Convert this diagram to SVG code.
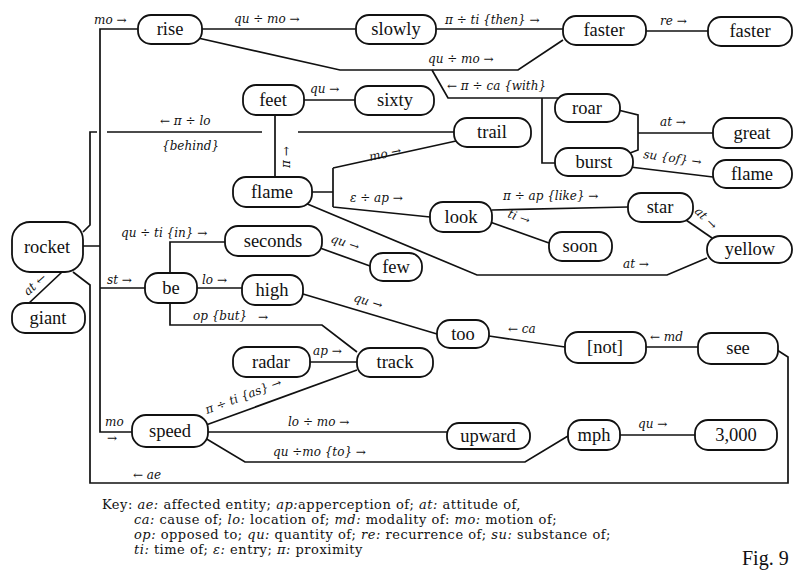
<svg xmlns="http://www.w3.org/2000/svg" width="795" height="581" viewBox="0 0 795 581">
<style>
.n rect{fill:#fff;stroke:#111;stroke-width:1.8}
.n text{font-family:"Liberation Serif",serif;font-size:18.5px;text-anchor:middle;fill:#111}
.e path{fill:none;stroke:#111;stroke-width:1.7}
.l{font-family:"DejaVu Serif",serif;font-style:italic;font-size:12px;fill:#111}
.k{font-family:"DejaVu Serif",serif;font-size:13px;letter-spacing:0.5px;fill:#111}
.k .i{font-style:italic}
</style>
<rect width="795" height="581" fill="#fff"/>
<g id="connectors" class="e">
<path d="M83,232 L90,225 L90,132 L97,132 M107,132 L262,132 M298,132 L454,132"/>
<path d="M73,272 L90,285 L90,483 L788,483 L788,357 L777,350"/>
<path d="M83,246 L100,246 M138,29 L100,29 L100,432 L132,432 M100,288 L145,288"/>
<path d="M62,272 L28,304"/>
<path d="M202,29 L356,29"/>
<path d="M436,29 L563,29"/>
<path d="M646,31 L708,31"/>
<path d="M198,38 L340,70 L518,70 L563,40"/>
<path d="M432,70 L448,98 L558,98 M542,98 L542,163 L555,163"/>
<path d="M618,110 L638,115 L638,150 L630,153 M638,133 L713,133"/>
<path d="M630,167 L713,177"/>
<path d="M304,100 L355,100"/>
<path d="M275,115 L275,177"/>
<path d="M312,192 L333,192 M333,168 L333,207 M333,168 L456,141 M333,207 L430,217"/>
<path d="M305,203 L477,275 L667,275 L707,258"/>
<path d="M492,210 L628,207"/>
<path d="M490,222 L549,243"/>
<path d="M686,220 L712,238"/>
<path d="M170,273 L170,242 L225,242"/>
<path d="M197,288 L242,288"/>
<path d="M170,303 L170,325 L322,325 L357,352"/>
<path d="M320,248 L370,266"/>
<path d="M303,294 L437,334"/>
<path d="M489,336 L565,347"/>
<path d="M646,347 L698,347"/>
<path d="M310,362 L357,362"/>
<path d="M206,425 L357,370"/>
<path d="M208,432 L447,432"/>
<path d="M205,438 L245,462 L525,462 L568,436"/>
<path d="M620,435 L695,435"/>
</g>
<g id="labels" class="l">
<text x="94" y="24">mo →</text>
<text x="234" y="23">qu ÷ mo →</text>
<text x="445" y="24">π ÷ ti {then} →</text>
<text x="660" y="25">re →</text>
<text x="428" y="63">qu ÷ mo →</text>
<text x="447" y="90">← π ÷ ca {with}</text>
<text x="660" y="126">at →</text>
<text transform="translate(643,158) rotate(8)">su {of} →</text>
<text x="310" y="93">qu →</text>
<text x="160" y="125">← π ÷ lo</text>
<text x="162" y="150">{behind}</text>
<text transform="translate(290,168) rotate(-90)">π →</text>
<text transform="translate(370,161) rotate(-12)">mo →</text>
<text x="350" y="202">ε ÷ ap →</text>
<text x="503" y="200">π ÷ ap {like} →</text>
<text transform="translate(507,217) rotate(20)">ti →</text>
<text transform="translate(694,212) rotate(45)">at →</text>
<text x="623" y="268">at →</text>
<text x="121" y="237">qu ÷ ti {in} →</text>
<text x="202" y="284">lo →</text>
<text x="107" y="284">st →</text>
<text x="193" y="320">op {but}</text>
<text x="258" y="321">→</text>
<text transform="translate(330,242) rotate(18)">qu →</text>
<text transform="translate(353,301) rotate(17)">qu →</text>
<text x="508" y="333">← ca</text>
<text x="650" y="341">← md</text>
<text x="313" y="355">ap →</text>
<text transform="translate(207,414) rotate(-20.5)">π ÷ ti {as} →</text>
<text x="288" y="426">lo ÷ mo →</text>
<text x="273" y="456">qu ÷mo {to} →</text>
<text x="638" y="428">qu →</text>
<text x="133" y="479">← ae</text>
<text x="105" y="426">mo</text>
<text x="107" y="442">→</text>
<text transform="translate(28,296) rotate(-42)">at ←</text>
</g>
<g id="rise" class="n"><rect x="138" y="15" width="64" height="29" rx="13"/><text x="170" y="35">rise</text></g>
<g id="slowly" class="n"><rect x="356" y="15" width="80" height="29" rx="13"/><text x="396" y="35">slowly</text></g>
<g id="faster1" class="n"><rect x="563" y="16" width="83" height="29" rx="13"/><text x="604" y="36">faster</text></g>
<g id="faster2" class="n"><rect x="708" y="17" width="84" height="29" rx="13"/><text x="750" y="37">faster</text></g>
<g id="feet" class="n"><rect x="243" y="85" width="61" height="30" rx="13"/><text x="273" y="106">feet</text></g>
<g id="sixty" class="n"><rect x="355" y="86" width="79" height="29" rx="13"/><text x="395" y="106">sixty</text></g>
<g id="trail" class="n"><rect x="454" y="118" width="77" height="29" rx="13"/><text x="492" y="138">trail</text></g>
<g id="flame1" class="n"><rect x="233" y="177" width="79" height="30" rx="13"/><text x="272" y="198">flame</text></g>
<g id="roar" class="n"><rect x="555" y="94" width="65" height="28" rx="13"/><text x="587" y="114">roar</text></g>
<g id="great" class="n"><rect x="713" y="118" width="79" height="30" rx="13"/><text x="752" y="139">great</text></g>
<g id="burst" class="n"><rect x="555" y="148" width="78" height="28" rx="13"/><text x="594" y="168">burst</text></g>
<g id="flame2" class="n"><rect x="713" y="160" width="79" height="28" rx="13"/><text x="752" y="180">flame</text></g>
<g id="look" class="n"><rect x="430" y="202" width="62" height="30" rx="13"/><text x="461" y="223">look</text></g>
<g id="star" class="n"><rect x="628" y="193" width="65" height="29" rx="13"/><text x="660" y="213">star</text></g>
<g id="soon" class="n"><rect x="549" y="232" width="63" height="29" rx="13"/><text x="580" y="252">soon</text></g>
<g id="yellow" class="n"><rect x="707" y="236" width="85" height="27" rx="13"/><text x="750" y="255">yellow</text></g>
<g id="rocket" class="n"><rect x="12" y="222" width="71" height="50" rx="18"/><text x="47" y="253">rocket</text></g>
<g id="giant" class="n"><rect x="12" y="303" width="73" height="30" rx="13"/><text x="48" y="324">giant</text></g>
<g id="seconds" class="n"><rect x="225" y="226" width="97" height="30" rx="13"/><text x="273" y="247">seconds</text></g>
<g id="few" class="n"><rect x="370" y="253" width="52" height="28" rx="13"/><text x="396" y="273">few</text></g>
<g id="be" class="n"><rect x="145" y="273" width="52" height="30" rx="13"/><text x="171" y="294">be</text></g>
<g id="high" class="n"><rect x="242" y="275" width="61" height="30" rx="13"/><text x="272" y="296">high</text></g>
<g id="too" class="n"><rect x="437" y="320" width="52" height="28" rx="13"/><text x="463" y="340">too</text></g>
<g id="not" class="n"><rect x="565" y="332" width="81" height="31" rx="13"/><text x="605" y="353">[not]</text></g>
<g id="see" class="n"><rect x="698" y="333" width="80" height="31" rx="13"/><text x="738" y="354">see</text></g>
<g id="radar" class="n"><rect x="233" y="347" width="77" height="30" rx="13"/><text x="271" y="368">radar</text></g>
<g id="track" class="n"><rect x="357" y="348" width="76" height="29" rx="13"/><text x="395" y="368">track</text></g>
<g id="speed" class="n"><rect x="132" y="415" width="76" height="32" rx="14"/><text x="170" y="437">speed</text></g>
<g id="upward" class="n"><rect x="447" y="423" width="83" height="26" rx="12"/><text x="488" y="442">upward</text></g>
<g id="mph" class="n"><rect x="568" y="420" width="52" height="30" rx="13"/><text x="594" y="441">mph</text></g>
<g id="n3000" class="n"><rect x="695" y="420" width="82" height="30" rx="13"/><text x="736" y="441">3,000</text></g>
<g id="key" class="k">
<text x="102" y="509">Key: <tspan class="i">ae:</tspan> affected entity; <tspan class="i">ap:</tspan>apperception  of; <tspan class="i">at:</tspan> attitude of,</text>
<text x="134" y="524"><tspan class="i">ca:</tspan> cause of; <tspan class="i">lo:</tspan> location of; <tspan class="i">md:</tspan> modality of: <tspan class="i">mo:</tspan> motion of;</text>
<text x="134" y="539"><tspan class="i">op:</tspan> opposed to; <tspan class="i">qu:</tspan> quantity of; <tspan class="i">re:</tspan> recurrence of; <tspan class="i">su:</tspan> substance of;</text>
<text x="134" y="554"><tspan class="i">ti:</tspan> time of; <tspan class="i">ε:</tspan> entry; <tspan class="i">π:</tspan> proximity</text>
<text x="742" y="565" style="font-size:20px;letter-spacing:0;font-family:'Liberation Serif',serif">Fig. 9</text>
</g>
</svg>
